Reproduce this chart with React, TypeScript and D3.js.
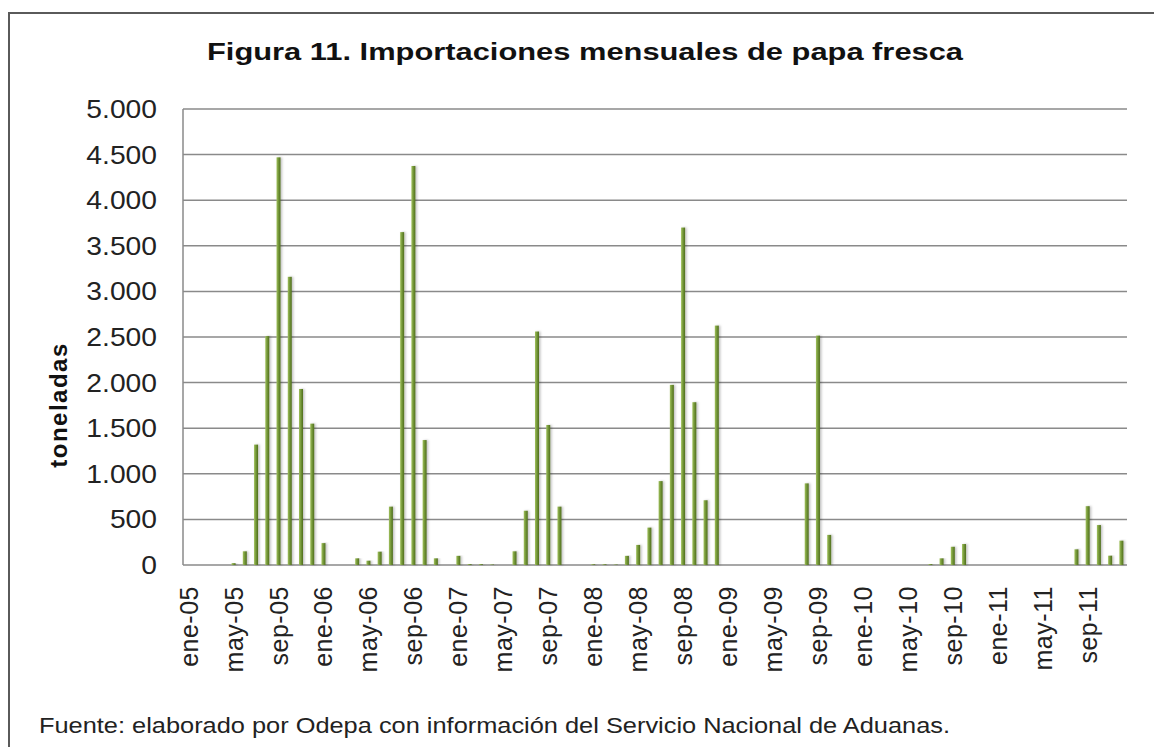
import React from "react";
import * as d3 from "d3";

const years = ["05", "06", "07", "08", "09", "10", "11"];
const monthNames = ["ene", "feb", "mar", "abr", "may", "jun", "jul", "ago", "sep", "oct", "nov", "dic"];
const months = years.flatMap(y => monthNames.map(m => `${m}-${y}`));

// toneladas por mes, ene..dic
const imports2005 = [0, 0, 0, 0, 20, 150, 1320, 2510, 4470, 3160, 1930, 1550];
const imports2006 = [240, 0, 0, 73, 47, 146, 640, 3650, 4375, 1370, 73, 0];
const imports2007 = [100, 10, 10, 5, 0, 150, 595, 2560, 1535, 640, 0, 0];
const imports2008 = [8, 8, 5, 100, 220, 410, 920, 1975, 3700, 1785, 710, 2625];
const imports2009 = [0, 0, 0, 0, 0, 0, 0, 895, 2515, 330, 0, 0];
const imports2010 = [0, 0, 0, 0, 0, 0, 10, 73, 200, 230, 0, 0];
const imports2011 = [0, 0, 0, 0, 0, 0, 0, 172, 645, 438, 102, 267];

const values = [
    ...imports2005,
    ...imports2006,
    ...imports2007,
    ...imports2008,
    ...imports2009,
    ...imports2010,
    ...imports2011
];

const yTicks = [0, 500, 1000, 1500, 2000, 2500, 3000, 3500, 4000, 4500, 5000];
// every 4th month gets a label
const xLabels = months.filter((m, i) => i % 4 === 0);

const title = "Figura 11. Importaciones mensuales de papa fresca";
const source = "Fuente: elaborado por Odepa con información del Servicio Nacional de Aduanas.";

const layout = {
    width: 1154,
    height: 747,
    left: 183,
    right: 1127,
    top: 109,
    bottom: 565
};

const esLocale = d3.formatLocale({
    decimal: ",",
    thousands: ".",
    grouping: [3],
    currency: ["$", ""]
});
const fmt = esLocale.format(",.0f");

const font = "'Liberation Sans', Arial, sans-serif";
const stretch = 1.13;

export default function App() {
    const xScale = d3.scaleBand().domain(months).range([layout.left, layout.right]);
    const yScale = d3.scaleLinear().domain([0, 5000]).range([layout.bottom, layout.top]);
    const barWidth = 4;

    const bars = values.map((v, i) => {
        const cx = xScale(months[i]) + xScale.bandwidth() / 2;
        const y = yScale(v);
        const h = layout.bottom - y;
        if (h <= 0) return null;
        return (
            <rect
                key={i}
                x={cx - barWidth / 2}
                y={y}
                width={barWidth}
                height={h}
                fill="url(#barGrad)"
                filter="url(#shadow)"
            />
        );
    });

    return (
        <svg
            width={layout.width}
            height={layout.height}
            style={{ position: "absolute", left: 0, top: 0, background: "#fff" }}
            fontFamily={font}
        >
            <defs>
                <linearGradient id="barGrad" x1="0" x2="1" y1="0" y2="0">
                    <stop offset="0%" stopColor="#a2c25e" />
                    <stop offset="45%" stopColor="#76993a" />
                    <stop offset="100%" stopColor="#4f6d1d" />
                </linearGradient>
                <filter id="shadow" x="-100%" y="-5%" width="300%" height="110%">
                    <feDropShadow dx="1.5" dy="0" stdDeviation="1" floodColor="#000" floodOpacity="0.25" />
                </filter>
            </defs>

            <rect x={9} y={13} width={1170} height={780} fill="none" stroke="#5a5a5a" strokeWidth={2} />

            <text
                x={585}
                y={60}
                textAnchor="middle"
                fontWeight="bold"
                fontSize={23.5}
                fill="#111"
                textLength={756}
                lengthAdjust="spacingAndGlyphs"
            >
                {title}
            </text>

            {yTicks.map(t => (
                <line
                    key={"g" + t}
                    x1={layout.left}
                    x2={layout.right}
                    y1={yScale(t)}
                    y2={yScale(t)}
                    stroke="#8a8a8a"
                    strokeWidth={1.5}
                />
            ))}
            <line
                x1={layout.left}
                x2={layout.left}
                y1={layout.top}
                y2={layout.bottom}
                stroke="#8a8a8a"
                strokeWidth={1.5}
            />

            {yTicks.map(t => (
                <text
                    key={"y" + t}
                    transform={`translate(157,${yScale(t)}) scale(${stretch},1)`}
                    textAnchor="end"
                    dy="0.36em"
                    fontSize={25}
                    fill="#222"
                >
                    {fmt(t)}
                </text>
            ))}

            <text
                transform={`translate(58,405) rotate(-90)`}
                textAnchor="middle"
                dy="0.36em"
                fontWeight="bold"
                fontSize={24}
                letterSpacing={1.5}
                fill="#111"
            >
                toneladas
            </text>

            {bars}

            {xLabels.map(m => (
                <text
                    key={m}
                    transform={`translate(${xScale(m) + xScale.bandwidth() / 2},586) rotate(-90)`}
                    textAnchor="end"
                    dy="0.36em"
                    fontSize={25}
                    letterSpacing={0.5}
                    fill="#222"
                >
                    {m}
                </text>
            ))}

            <text
                x={39}
                y={733}
                fontSize={22.5}
                fill="#222"
                textLength={911}
                lengthAdjust="spacingAndGlyphs"
            >
                {source}
            </text>
        </svg>
    );
}
